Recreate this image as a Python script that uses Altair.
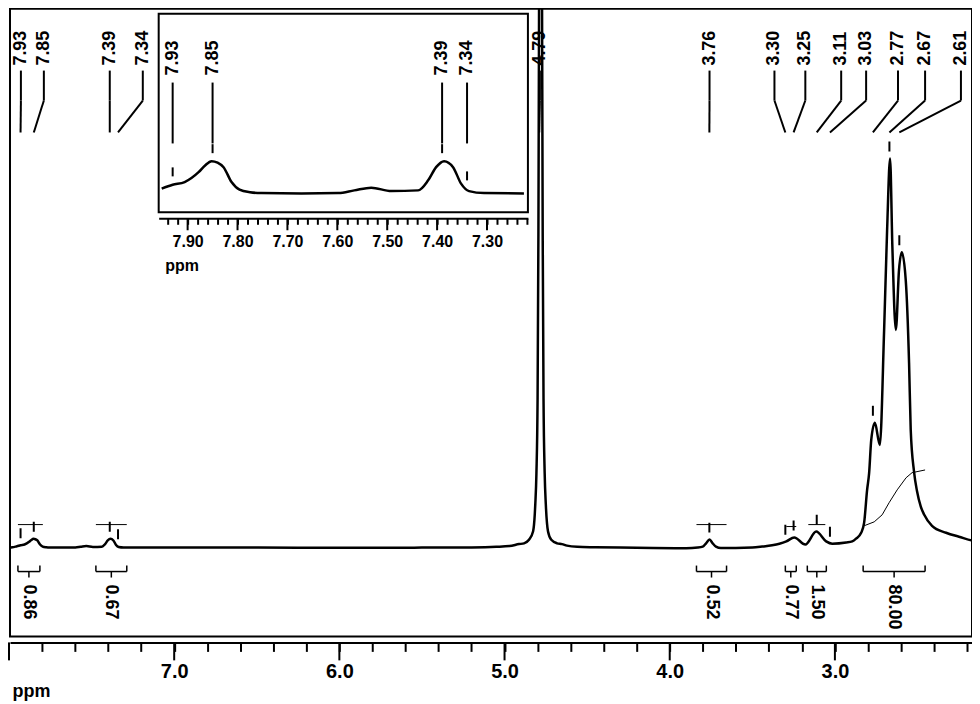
import altair as alt
import pandas as pd

FONT = "Liberation Sans"

# ---------------- spectrum (ppm, intensity; tallest 2.67 ppm line = 100) -------------
spec_ppm = [8.00, 7.98, 7.96, 7.952, 7.93, 7.906, 7.878, 7.865, 7.852, 7.84, 7.828, 7.812,
            7.796, 7.775, 7.752, 7.672, 7.598, 7.566, 7.532, 7.492, 7.438, 7.418, 7.402,
            7.386, 7.368, 7.352, 7.336, 7.306, 7.226,
            7.00, 6.50, 6.00, 5.50, 5.20, 5.05, 4.97, 4.912, 4.882, 4.852, 4.827, 4.817,
            4.814, 4.807, 4.800, 4.795, 4.791, 4.782, 4.773, 4.769, 4.764, 4.757, 4.750,
            4.737, 4.717, 4.682, 4.652, 4.622, 4.56, 4.45, 4.30,
            4.10, 3.90, 3.83, 3.80, 3.78, 3.759, 3.74, 3.72, 3.69, 3.60, 3.50, 3.44, 3.38,
            3.336, 3.294, 3.246, 3.179, 3.113, 3.053, 3.016, 2.932, 2.895, 2.872, 2.841,
            2.823, 2.805, 2.793, 2.780, 2.758, 2.728, 2.702, 2.684, 2.666, 2.652, 2.631,
            2.612, 2.595, 2.571, 2.551, 2.541, 2.521, 2.503, 2.480, 2.460, 2.412, 2.327,
            2.249, 2.158, 2.14]
spec_int = [0.0, 0.08, 0.25, 0.33, 0.6, 0.79, 1.48, 1.95, 2.25, 2.15, 1.83, 0.79,
            0.26, 0.08, 0.02, 0.0, 0.02, 0.21, 0.40, 0.16, 0.21, 0.91, 1.83,
            2.25, 1.83, 0.68, 0.16, 0.02, 0.0,
            0.0, 0.0, -0.05, 0.0, 0.05, 0.2, 0.4, 0.9, 1.1, 2.0, 4.2, 8.5,
            11, 19, 38, 80, 140, 300, 140, 80, 38, 19, 11,
            4.2, 2.0, 1.1, 0.9, 0.5, 0.2, 0.1, 0.0,
            -0.1, -0.15, 0.0, 0.25, 1.1, 2.05, 1.1, 0.25, -0.1, -0.1, 0.0, 0.26, 0.6,
            1.0, 1.6, 2.6, 0.8, 4.1, 1.6, 1.0, 1.3, 1.6, 2.3, 3.8,
            6.4, 14.8, 19.0, 27.6, 32.0, 26.3, 55.8, 81.3, 99.7, 77.0, 55.8,
            71.1, 75.7, 68.5, 47.3, 30.2, 19.5, 14.5, 10.5, 8.5, 5.6, 3.8,
            2.8, 1.8, 1.8]

# ---------------- picked peaks ----------------
peak_ppm = [7.93, 7.85, 7.39, 7.34, 4.79, 3.76, 3.30, 3.25, 3.11, 3.03, 2.77, 2.67, 2.61]
peak_label = ["7.93", "7.85", "7.39", "7.34", "4.79", "3.76", "3.30", "3.25", "3.11",
              "3.03", "2.77", "2.67", "2.61"]
peak_label_ppm = [7.928, 7.789, 7.390, 7.190, 4.786, 3.759, 3.366, 3.179, 2.962, 2.811,
                  2.618, 2.454, 2.237]
peak_height = [0.63, 2.25, 2.25, 0.35, 400, 2.05, 1.5, 2.6, 4.1, 1.0, 32.0, 99.7, 75.7]

# ---------------- integrals ----------------
integral_start = [7.946, 7.474, 3.838, 3.300, 3.167, 2.829]
integral_end = [7.813, 7.287, 3.656, 3.234, 3.052, 2.454]
integral_value = ["0.86", "0.67", "0.52", "0.77", "1.50", "80.00"]

icurve_region = ["a", "a", "b", "b", "c", "c", "d", "d", "e", "e",
                 "f", "f", "f", "f", "f", "f", "f", "f"]
icurve_ppm = [7.946, 7.795, 7.474, 7.287, 3.838, 3.656, 3.294, 3.234, 3.161, 3.058,
              2.823, 2.762, 2.714, 2.672, 2.623, 2.569, 2.533, 2.454]
icurve_level = [5.9, 5.9, 5.9, 5.9, 5.9, 5.9, 5.4, 5.4, 5.9, 5.9,
                5.6, 6.6, 8.4, 11.5, 14.8, 17.9, 19.2, 19.9]

# ---------------- axes ----------------
main_ticks = [8.0, 7.8, 7.6, 7.4, 7.2, 7.0, 6.8, 6.6, 6.4, 6.2, 6.0, 5.8, 5.6, 5.4, 5.2,
              5.0, 4.8, 4.6, 4.4, 4.2, 4.0, 3.8, 3.6, 3.4, 3.2, 3.0, 2.8, 2.6, 2.4, 2.2]
main_major = [8.0, 7.0, 6.0, 5.0, 4.0, 3.0]
main_labels = [7.0, 6.0, 5.0, 4.0, 3.0]
inset_ticks = [7.94, 7.92, 7.90, 7.88, 7.86, 7.84, 7.82, 7.80, 7.78, 7.76, 7.74, 7.72,
               7.70, 7.68, 7.66, 7.64, 7.62, 7.60, 7.58, 7.56, 7.54, 7.52, 7.50, 7.48,
               7.46, 7.44, 7.42, 7.40, 7.38, 7.36, 7.34, 7.32, 7.30, 7.28, 7.26, 7.24, 7.22]
inset_major = [7.90, 7.80, 7.70, 7.60, 7.50, 7.40, 7.30]
main_x_domain = [7.994, 2.170]
main_y_domain = [-22.76, 138.11]
inset_x_domain = [7.958, 7.218]
inset_y_domain = [-1.32, 12.54]

W, H = 964, 629

spec = pd.DataFrame({"ppm": spec_ppm, "intensity": spec_int})
peaks = pd.DataFrame({"ppm": peak_ppm, "label": peak_label, "label_ppm": peak_label_ppm,
                      "height": peak_height})
integ = pd.DataFrame({"start": integral_start, "end": integral_end, "value": integral_value})
icurve = pd.DataFrame({"region": icurve_region, "ppm": icurve_ppm, "level": icurve_level})
box = pd.DataFrame({"x0": [inset_x_domain[0]], "x1": [inset_x_domain[1]],
                    "y0": [inset_y_domain[0]], "y1": [inset_y_domain[1]]})

lbl_list = ",".join(str(v) for v in main_labels)
main_axis = alt.Axis(
    values=main_ticks,
    labelExpr=f"indexof([{lbl_list}], round(datum.value * 10) / 10) >= 0 ? format(datum.value, '.1f') : ''",
    tickSize=9, tickWidth=2, tickColor="black", domainWidth=2, domainColor="black", offset=6,
    grid=False, labelFont=FONT, labelFontSize=20, labelFontWeight="bold",
    labelColor="black", labelPadding=10, labelFlush=False, labelOverlap=False,
    titleFont=FONT, titleFontSize=18, titleFontWeight="bold", titleColor="black",
    titleAnchor="start", titleAlign="left", titleX=2, titleY=54, titleBaseline="alphabetic",
)
inset_axis = alt.Axis(
    values=inset_ticks, orient="bottom", offset=-419,
    labelExpr="abs(datum.value * 10 - round(datum.value * 10)) < 0.001 ? format(datum.value, '.2f') : ''",
    tickSize=6, tickWidth=2, tickColor="black", domainWidth=2, domainColor="black",
    grid=False, labelFont=FONT, labelFontSize=16, labelFontWeight="bold",
    labelColor="black", labelPadding=9, labelFlush=False, labelOverlap=False,
    titleFont=FONT, titleFontSize=16, titleFontWeight="bold", titleColor="black",
    titleAnchor="start", titleAlign="left", titleX=155, titleY=47, titleBaseline="middle",
)

mxs = alt.Scale(domain=main_x_domain, nice=False, zero=False)
mys = alt.Scale(domain=main_y_domain, nice=False, zero=False)
ixs = alt.Scale(domain=inset_x_domain, range=[149, 519], nice=False, zero=False)
iys = alt.Scale(domain=inset_y_domain, range=[204, 5], nice=False, zero=False)


def MX(f):
    return alt.X(f"{f}:Q", scale=mxs, axis=main_axis, title="ppm")


def MY(f):
    return alt.Y(f"{f}:Q", scale=mys, axis=None)


def IX(f):
    return alt.X(f"{f}:Q", scale=ixs, axis=inset_axis, title="ppm")


def IY(f):
    return alt.Y(f"{f}:Q", scale=iys, axis=None)


TXT = dict(font=FONT, fontSize=18, fontWeight="bold", color="black")

# ---------------- main panel ----------------
pk = alt.Chart(peaks)
lead_v = pk.mark_rule(color="black", strokeWidth=2).encode(
    x=MX("label_ppm"), y=alt.value(62), y2=alt.value(92))
lead_d = pk.mark_rule(color="black", strokeWidth=2).encode(
    x=MX("label_ppm"), x2=alt.X2("ppm"), y=alt.value(92), y2=alt.value(124))
lead_t = pk.mark_text(angle=270, align="left", baseline="middle", **TXT).encode(
    x=MX("label_ppm"), y=alt.value(57), text="label:N")
markers = pk.mark_rule(color="black", strokeWidth=2, yOffset=-7, y2Offset=-17,
                       clip=True).encode(x=MX("ppm"), y=MY("height"), y2=alt.Y2("height"))

icurves = alt.Chart(icurve).mark_line(color="black", strokeWidth=1).encode(
    x=MX("ppm"), y=MY("level"), detail="region:N")

ig = alt.Chart(integ)
br_h = ig.mark_rule(color="black", strokeWidth=1.5).encode(
    x=MX("start"), x2=alt.X2("end"), y=alt.value(564))
br_caps = ig.transform_fold(["start", "end"], as_=["edge", "pos"]).mark_rule(
    color="black", strokeWidth=1.5).encode(x=MX("pos"), y=alt.value(558), y2=alt.value(564))
br_mid = ig.transform_calculate(mid="(datum.start + datum.end) / 2").mark_rule(
    color="black", strokeWidth=1.5).encode(x=MX("mid"), y=alt.value(564), y2=alt.value(570))
br_txt = ig.transform_calculate(mid="(datum.start + datum.end) / 2").mark_text(
    angle=90, align="left", baseline="middle", **TXT).encode(
    x=MX("mid"), y=alt.value(577), text="value:N")

major_main = alt.Chart(pd.DataFrame({"v": main_major})).mark_rule(
    color="black", strokeWidth=2).encode(x=MX("v"), y=alt.value(H + 6), y2=alt.value(H + 24))

spectrum = alt.Chart(spec).mark_line(color="black", strokeWidth=2.5, interpolate="monotone",
                                     clip=True).encode(x=MX("ppm"), y=MY("intensity"))

main = alt.layer(lead_v, lead_d, lead_t, markers, icurves, br_h, br_caps, br_mid, br_txt,
                 major_main, spectrum)

# ---------------- inset ----------------
frame = alt.Chart(box).mark_rect(fill="white", stroke="black", strokeWidth=2).encode(
    x=IX("x0"), x2=alt.X2("x1"), y=IY("y0"), y2=alt.Y2("y1"))
ispec = alt.Chart(spec).transform_filter(
    f"datum.ppm <= {inset_x_domain[0]} && datum.ppm >= {inset_x_domain[1]}").mark_line(
    color="black", strokeWidth=2.5, interpolate="monotone").encode(
    x=IX("ppm"), y=IY("intensity"))
ipk = alt.Chart(peaks).transform_filter("datum.ppm > 7")
i_lead = ipk.mark_rule(color="black", strokeWidth=2).encode(
    x=IX("ppm"), y=alt.value(74), y2=alt.value(135))
i_mark = ipk.mark_rule(color="black", strokeWidth=2, yOffset=-8, y2Offset=-17).encode(
    x=IX("ppm"), y=IY("height"), y2=alt.Y2("height"))
i_txt = ipk.mark_text(angle=270, align="left", baseline="middle", **TXT).encode(
    x=IX("ppm"), y=alt.value(67), text="label:N")
major_inset = alt.Chart(pd.DataFrame({"v": inset_major})).mark_rule(
    color="black", strokeWidth=2).encode(x=IX("v"), y=alt.value(210), y2=alt.value(222))

inset = alt.layer(frame, ispec, i_lead, i_mark, i_txt, major_inset)

chart = alt.layer(main, inset).resolve_scale(x="independent", y="independent").properties(
    width=W, height=H, padding={"left": 0, "top": 0, "right": 0, "bottom": 0},
    background="white",
).configure_view(stroke="black", strokeWidth=2)

chart.save("out.html", embed_options={"renderer": "svg", "actions": False})
